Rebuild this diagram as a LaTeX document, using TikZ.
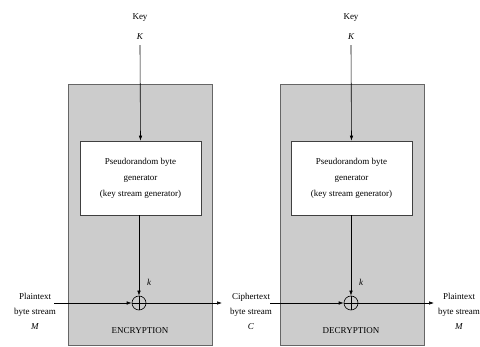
\documentclass[tikz,border=0pt]{standalone}
\usepackage{fontspec}
\setmainfont{Liberation Serif}
\usetikzlibrary{arrows.meta}
\begin{document}
\begin{tikzpicture}[x=1pt,y=-1pt,
	stagebox/.style={draw=black!60, fill=black!20, line width=0.9pt},
	genbox/.style={draw=black!75, fill=white, line width=0.6pt, minimum width=121pt, minimum height=74pt, inner sep=0pt, align=center},
	xorop/.style={circle, draw, line width=0.6pt, minimum size=14pt, inner sep=0pt},
	txt/.style={align=center, inner sep=0pt, font=\fontsize{9}{15}\selectfont},
	arr/.style={line width=0.6pt, -{Latex[length=5pt,width=3.5pt]}}]
	%%%%% START %%%%%
	
	\useasboundingbox (0, 0) rectangle (480, 347);
	
	% encryption side
	\draw[stagebox] (68, 84) rectangle (212, 345);
	\node[genbox, font=\fontsize{9}{16}\selectfont] (genE) at (140.5, 178) {Pseudorandom byte\\generator\\(key stream generator)};
	\node[txt] (keyE) at (140, 18) {Key};
	\node[txt, font=\fontsize{9}{15}\selectfont\itshape] (kE) at (140, 37) {K};
	\draw[arr] (kE.south) ++(0, 5) -- (genE.north);
	\node[xorop] (xorE) at (139, 303) {};
	\draw[line width=0.6pt] (xorE.north) -- (xorE.south) (xorE.west) -- (xorE.east);
	\draw[arr] (genE.south -| xorE) -- (xorE.north);
	\node[txt, font=\fontsize{9}{15}\selectfont\itshape] (ksE) at (149, 282) {k};
	\node[txt] (encr) at (140, 331) {ENCRYPTION};
	
	\node[txt] (plainIn) at (35, 311) {Plaintext\\byte stream\\\textit{M}};
	\coordinate (inE) at (54, 303);
	\draw[arr] (inE) -- (xorE.west);
	\node[txt] (cipher) at (251, 311) {Ciphertext\\byte stream\\\textit{C}};
	\coordinate (outE) at (222, 303);
	\draw[arr] (xorE.east) -- (outE);
	
	% decryption side
	\draw[stagebox] (280, 84) rectangle (424, 345);
	\node[genbox, font=\fontsize{9}{16}\selectfont] (genD) at (351.5, 178) {Pseudorandom byte\\generator\\(key stream generator)};
	\node[txt] (keyD) at (351, 18) {Key};
	\node[txt, font=\fontsize{9}{15}\selectfont\itshape] (kD) at (351, 37) {K};
	\draw[arr] (kD.south) ++(0, 5) -- (genD.north);
	\node[xorop] (xorD) at (351, 303) {};
	\draw[line width=0.6pt] (xorD.north) -- (xorD.south) (xorD.west) -- (xorD.east);
	\draw[arr] (genD.south -| xorD) -- (xorD.north);
	\node[txt, font=\fontsize{9}{15}\selectfont\itshape] (ksD) at (361, 282) {k};
	\node[txt] (decr) at (351, 331) {DECRYPTION};
	
	\coordinate (inD) at (270, 303);
	\draw[arr] (inD) -- (xorD.west);
	\node[txt] (plainOut) at (459, 311) {Plaintext\\byte stream\\\textit{M}};
	\coordinate (outD) at (434, 303);
	\draw[arr] (xorD.east) -- (outD);
	
	%%%%% END %%%%%
\end{tikzpicture}
\end{document}
